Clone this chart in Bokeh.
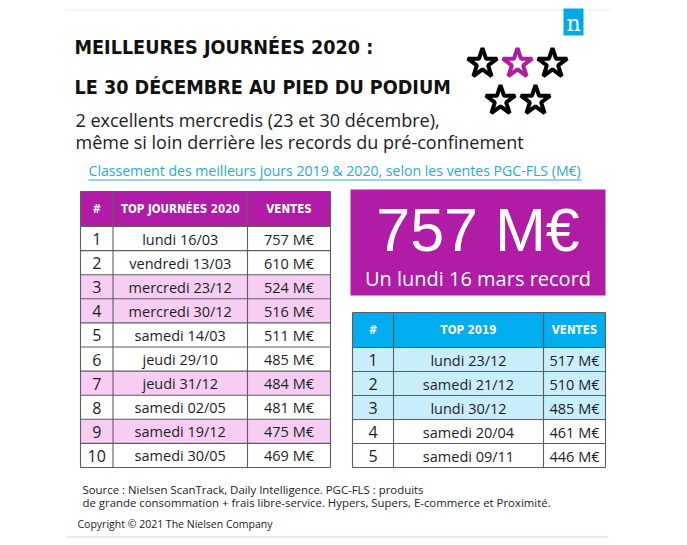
from bokeh.plotting import figure
from bokeh.models import Range1d
from bokeh.core.properties import value
from bokeh.embed import file_html
from bokeh.resources import INLINE

# ---------------- data ----------------
title_lines = ["MEILLEURES JOURNÉES 2020 :", "LE 30 DÉCEMBRE AU PIED DU PODIUM"]
subtitle_lines = ["2 excellents mercredis (23 et 30 décembre),",
                  "même si loin derrière les records du pré-confinement"]
link_text = "Classement des meilleurs jours 2019 & 2020, selon les ventes PGC-FLS (M€)"

header_2020 = ["#", "TOP JOURNÉES 2020", "VENTES"]
rank_2020 = [1, 2, 3, 4, 5, 6, 7, 8, 9, 10]
days_2020 = ["lundi 16/03", "vendredi 13/03", "mercredi 23/12", "mercredi 30/12",
             "samedi 14/03", "jeudi 29/10", "jeudi 31/12", "samedi 02/05",
             "samedi 19/12", "samedi 30/05"]
sales_2020 = [757, 610, 524, 516, 511, 485, 484, 481, 475, 469]

header_2019 = ["#", "TOP 2019", "VENTES"]
rank_2019 = [1, 2, 3, 4, 5]
days_2019 = ["lundi 23/12", "samedi 21/12", "lundi 30/12", "samedi 20/04", "samedi 09/11"]
sales_2019 = [517, 510, 485, 461, 446]

record_value = 757
record_label = "Un lundi 16 mars record"

footer_lines = ["Source : Nielsen ScanTrack, Daily Intelligence. PGC-FLS : produits",
                "de grande consommation + frais libre-service. Hypers, Supers, E-commerce et Proximité."]
copyright_text = "Copyright © 2021 The Nielsen Company"

star_highlight = [False, True, False, False, False]

# ---------------- style ----------------
PURPLE = "#b01ca6"
PINK = "#f7cdf3"
BLUE = "#00aeef"
LIGHT_BLUE = "#c9eefb"
GRID = "#5e5e5e"
TEXT = "#1e1e1e"
COND = value("DejaVu Sans Condensed, Roboto")
SANS = value("Open Sans")

W, H = 687, 545
p = figure(width=W, height=H, output_backend="svg", toolbar_location=None,
           x_range=Range1d(0, W), y_range=Range1d(H, 0),
           x_axis_type=None, y_axis_type=None, min_border=0)
p.outline_line_color = None
p.xgrid.visible = False
p.ygrid.visible = False
p.background_fill_color = "white"

# thin frame lines top / bottom
p.segment(x0=[65, 65], y0=[9.5, 536.5], x1=[610, 608], y1=[9.5, 536.5],
          line_color=["#eef2f5", "#dce5eb"], line_width=1.5)

# title
p.text(x=[74, 74], y=[47, 87], text=title_lines, text_font=COND, text_font_style="bold",
       text_font_size="19.6px", text_color="#111111", text_baseline="middle")
# subtitle
p.text(x=[75, 75], y=[119, 141], text=subtitle_lines, text_font=SANS,
       text_font_size="18px", text_color="#222222", text_baseline="middle")
# link
p.text(x=[88], y=[170], text=[link_text], text_font=SANS, text_font_size="14.1px",
       text_color="#27a9e1", text_baseline="middle")
p.segment(x0=[88], y0=[179.5], x1=[581], y1=[179.5], line_color="#27a9e1", line_width=1)

# Nielsen logo
p.quad(left=[563], right=[583], top=[8], bottom=[35], fill_color="#00a9e6", line_color=None)
p.text(x=[573], y=[23], text=["n"], text_font=value("DejaVu Serif"), text_font_size="22px",
       text_color="white", text_align="center", text_baseline="middle")

# stars
star_x = [482, 517, 552, 500, 535]
star_y = [63, 63, 63, 100, 100]
p.scatter(x=star_x, y=star_y, marker="star", size=31, fill_color="white",
          line_color=[PURPLE if h else "black" for h in star_highlight], line_width=4)


def draw_table(x_edges, top, header_h, row_h, headers, ranks, days, sales,
               head_color, hl_color):
    n = len(ranks)
    left, right = x_edges[0], x_edges[-1]
    bottom = top + header_h + n * row_h
    p.quad(left=[left], right=[right], top=[top], bottom=[top + header_h],
           fill_color=head_color, line_color=None)
    tops = [top + header_h + i * row_h for i in range(n)]
    fills = [hl_color if d.endswith("/12") else "white" for d in days]
    p.quad(left=[left] * n, right=[right] * n, top=tops, bottom=[t + row_h for t in tops],
           fill_color=fills, line_color=None)
    ys = [top] + [top + header_h + i * row_h for i in range(n + 1)]
    p.multi_line(xs=[[left, right] for _ in ys], ys=[[y, y] for y in ys],
                 line_color=GRID, line_width=1.1)
    p.multi_line(xs=[[x, x] for x in x_edges], ys=[[top, bottom] for _ in x_edges],
                 line_color=GRID, line_width=1.1)
    centers = [(x_edges[i] + x_edges[i + 1]) / 2 for i in range(3)]
    p.text(x=centers, y=[top + header_h / 2] * 3, text=headers, text_font=COND,
           text_font_style="bold", text_font_size="11.5px", text_color="white",
           text_align="center", text_baseline="middle")
    mids = [t + row_h / 2 + 0.5 for t in tops]
    p.text(x=[centers[0]] * n, y=mids, text=[str(r) for r in ranks], text_font=SANS,
           text_font_size="16px", text_color=TEXT, text_align="center", text_baseline="middle")
    p.text(x=[centers[1]] * n, y=mids, text=days, text_font=SANS,
           text_font_size="14.5px", text_color=TEXT, text_align="center", text_baseline="middle")
    p.text(x=[centers[2]] * n, y=mids, text=[f"{s} M€" for s in sales], text_font=SANS,
           text_font_size="14.5px", text_color=TEXT, text_align="center", text_baseline="middle")


draw_table([80, 112.5, 247, 330], 191, 35, 24.1, header_2020, rank_2020, days_2020,
           sales_2020, PURPLE, PINK)
draw_table([352, 393, 543, 605], 312, 35, 24.0, header_2019, rank_2019, days_2019,
           sales_2019, BLUE, LIGHT_BLUE)

# record box
p.quad(left=[350], right=[605], top=[189], bottom=[295], fill_color=PURPLE, line_color=None)
p.text(x=[477.5], y=[229], text=[f"{record_value} M€"], text_font=value("Liberation Sans"),
       text_font_size="61px", text_color="white", text_align="center", text_baseline="middle")
p.text(x=[477.5], y=[278], text=[record_label], text_font=SANS, text_font_size="20px",
       text_color="white", text_align="center", text_baseline="middle")

# footer
p.text(x=[82, 82], y=[488.5, 502], text=footer_lines, text_font=SANS, text_font_size="11.4px",
       text_color="#222222", text_baseline="middle")
p.text(x=[77], y=[523.5], text=[copyright_text], text_font=SANS, text_font_size="10.5px",
       text_color="#222222", text_baseline="middle")

open("out.html", "w").write(file_html(p, INLINE))
